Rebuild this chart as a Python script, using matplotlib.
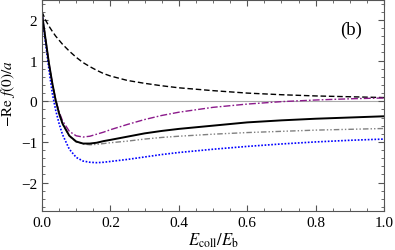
import numpy as np
import matplotlib
matplotlib.use('Agg')
import matplotlib.pyplot as plt
from matplotlib.ticker import MultipleLocator

plt.rcParams['font.family'] = 'Liberation Serif'
plt.rcParams['mathtext.fontset'] = 'stix'

# energy grid E_coll/E_b
e_coll = [0.0, 0.01, 0.02, 0.03, 0.04, 0.05, 0.06, 0.08, 0.10, 0.12, 0.14, 0.16,
          0.18, 0.20, 0.25, 0.30, 0.35, 0.40, 0.50, 0.60, 0.70, 0.80, 0.90, 1.0]

# -Re f(0)/a for each curve
re_dashed = [2.2, 2.0, 1.85, 1.72, 1.6, 1.5, 1.4, 1.23, 1.08, 0.95, 0.85, 0.76,
             0.68, 0.62, 0.51, 0.44, 0.38, 0.33, 0.26, 0.2, 0.16, 0.13, 0.11, 0.09]
re_solid = [2.15, 1.55, 0.95, 0.45, 0.02, -0.30, -0.55, -0.85, -0.99, -1.04, -1.04, -1.02,
            -0.98, -0.95, -0.87, -0.79, -0.73, -0.68, -0.60, -0.52, -0.47, -0.43, -0.40, -0.37]
re_purple = [2.15, 1.55, 0.95, 0.45, 0.04, -0.26, -0.48, -0.74, -0.85, -0.88, -0.86, -0.81,
             -0.76, -0.70, -0.57, -0.45, -0.35, -0.27, -0.15, -0.07, -0.01, 0.03, 0.06, 0.08]
re_gray = [2.15, 1.55, 0.95, 0.45, 0.02, -0.31, -0.56, -0.86, -1.0, -1.05, -1.07, -1.06,
           -1.04, -1.02, -0.98, -0.93, -0.89, -0.86, -0.81, -0.77, -0.74, -0.71, -0.69, -0.67]
re_blue = [2.15, 1.45, 0.8, 0.2, -0.22, -0.55, -0.82, -1.18, -1.38, -1.47, -1.50, -1.51,
           -1.50, -1.48, -1.43, -1.37, -1.31, -1.26, -1.18, -1.11, -1.05, -1.00, -0.96, -0.93]

fig = plt.figure(figsize=(3.95, 2.51), dpi=100)
ax = fig.add_axes([0.1063, 0.155, 0.866, 0.843])

ax.axhline(0, color='#aaaaaa', lw=0.8, zorder=1)
ax.plot(e_coll, re_dashed, color='black', ls=(0, (4, 2)), lw=1.0)
ax.plot(e_coll, re_purple, color='#8b1a8b', ls=(0, (5, 1.5, 1.2, 1.5)), lw=1.0)
ax.plot(e_coll, re_gray, color='#808080', ls=(0, (4, 1.5, 1, 1.5, 1, 1.5)), lw=1.0)
ax.plot(e_coll, re_blue, color='blue', ls=(0, (1, 1)), lw=1.2)
ax.plot(e_coll, re_solid, color='black', lw=1.4)

ax.set_xlim(0, 1)
ax.set_ylim(-2.7, 2.5)
ax.xaxis.set_major_locator(MultipleLocator(0.2))
ax.xaxis.set_minor_locator(MultipleLocator(0.05))
ax.yaxis.set_major_locator(MultipleLocator(1))
ax.yaxis.set_minor_locator(MultipleLocator(0.2))
ax.xaxis.set_major_formatter(lambda v, p: f'{v:.1f}')
ax.yaxis.set_major_formatter(lambda v, p: f'{v:.0f}'.replace('-', '\u2212'))

ax.tick_params(which='both', direction='in', top=True, right=True, labelsize=11,
               color='#555555')
ax.tick_params(which='major', length=4)
ax.tick_params(which='minor', length=2)
for s in ax.spines.values():
    s.set_color('#555555')

ax.set_xlabel(r'$E_{\mathrm{coll}}/E_{\mathrm{b}}$', fontsize=12, labelpad=1)
ax.set_ylabel(r'$-\mathrm{Re}\ f(0)/a$', fontsize=11)
ax.yaxis.set_label_coords(-0.072, 0.56)
ax.text(0.905, 1.76, '(b)', fontsize=13.5, ha='center', va='center')

fig.savefig('out.png', dpi=100)
